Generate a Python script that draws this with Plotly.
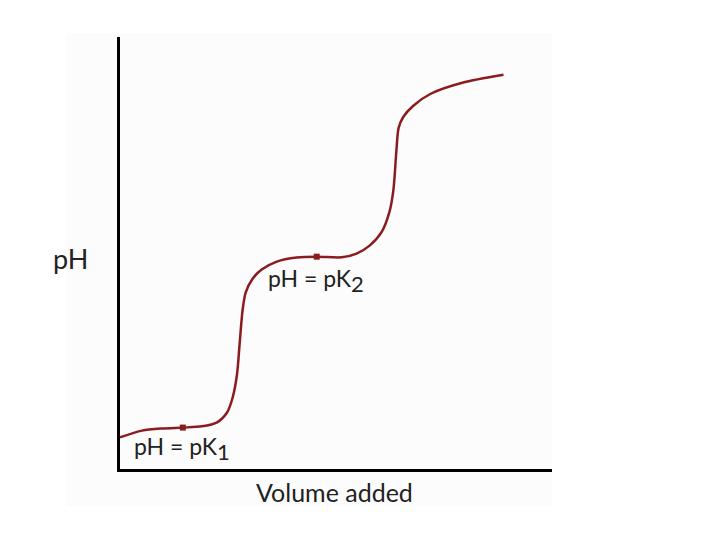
import plotly.graph_objects as go

# Titration curve of a diprotic acid (arbitrary units)
volume = [0.0, 0.51, 0.97, 1.45, 1.89, 2.24, 2.47, 2.60, 2.70, 2.76, 2.83, 2.90, 3.06, 3.27,
          3.62, 4.08, 4.54, 5.12, 5.46, 5.76, 6.04, 6.22, 6.31, 6.38, 6.43, 6.54, 6.77, 7.17,
          7.90, 8.85]
ph = [0.98, 1.20, 1.27, 1.30, 1.34, 1.47, 1.79, 2.28, 3.03, 4.01, 5.14, 5.70, 6.15, 6.45,
      6.71, 6.84, 6.87, 6.85, 6.97, 7.23, 7.68, 8.34, 9.05, 10.35, 11.07, 11.43, 11.79, 12.18,
      12.54, 12.80]

pk_volume = [1.45, 4.54]
pk_ph = [1.30, 6.87]
pk_labels = ["pH = pK", "pH = pK"]
pk_subs = ["1", "2"]

x_title = "Volume added"
y_title = "pH"

curve_color = "#8a1c1f"
text_color = "#222222"
font_family = "Lato, 'Noto Sans', sans-serif"
label_yshift = [-21, -24]

fig = go.Figure()
fig.add_trace(go.Scatter(x=volume, y=ph, mode="lines",
                         line=dict(color=curve_color, width=2.5, shape="spline", smoothing=0.8),
                         hoverinfo="skip", showlegend=False))
fig.add_trace(go.Scatter(x=pk_volume, y=pk_ph, mode="markers",
                         marker=dict(color=curve_color, size=6, symbol="square"),
                         showlegend=False))

for xv, yv, lab, sub, ys in zip(pk_volume, pk_ph, pk_labels, pk_subs, label_yshift):
    fig.add_annotation(x=xv, y=yv, xref="x", yref="y",
                       text=lab + "<sub><span style='font-size:22px'>" + sub + "</span></sub>",
                       showarrow=False, xanchor="left", yanchor="middle",
                       xshift=-51, yshift=ys,
                       font=dict(family=font_family, size=23, color=text_color))

fig.add_annotation(x=0.496, y=0, xref="paper", yref="paper", text=x_title, showarrow=False,
                   xanchor="center", yanchor="top", yshift=-6,
                   font=dict(family=font_family, size=25, color=text_color))
fig.add_annotation(x=0, y=0.487, xref="paper", yref="paper", text=y_title, showarrow=False,
                   xanchor="right", yanchor="middle", xshift=-30,
                   font=dict(family=font_family, size=27, color=text_color))

# faint panel behind the figure
fig.add_shape(type="rect", xref="paper", yref="paper", x0=-0.124, x1=1.0, y0=-0.086, y1=1.009,
              fillcolor="#fcfcfc", line=dict(width=0), layer="below")

fig.update_layout(
    width=720, height=540,
    margin=dict(l=111.5, r=176, t=29, b=78.5),
    paper_bgcolor="white", plot_bgcolor="rgba(0,0,0,0)",
    xaxis=dict(range=[0, 9.97], showgrid=False, zeroline=False, showticklabels=False,
               ticks="", showline=True, linecolor="black", linewidth=3),
    yaxis=dict(range=[-0.05, 14.03], showgrid=False, zeroline=False, showticklabels=False,
               ticks="", showline=True, linecolor="black", linewidth=3),
)

fig.write_html("out.html")
